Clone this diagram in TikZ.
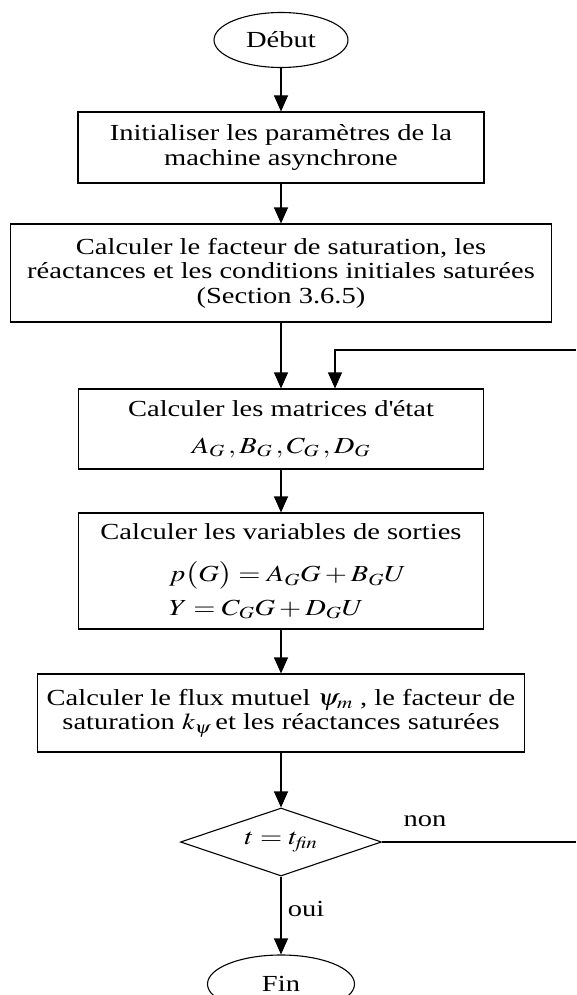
\documentclass[tikz,border=0pt]{standalone}
\usepackage{mathptmx}
\usepackage{graphicx}
\usepackage{fontspec}
\setmainfont{Liberation Serif}[FakeStretch=1.24]
\usetikzlibrary{shapes.geometric,arrows.meta}
\newcommand\mhs[1]{\scalebox{1.24}[1]{$#1$}}
\begin{document}
\begin{tikzpicture}[x=1pt,y=-1pt,
  every node/.style={font=\fontsize{23}{24.5}\selectfont},
  procbox/.style={draw,line width=1.1pt,inner sep=0pt,align=center},
  termnode/.style={draw,ellipse,line width=1.1pt,inner sep=0pt},
  decnode/.style={draw,diamond,line width=1.1pt,inner sep=0pt,minimum width=201pt,minimum height=68pt,aspect=2.96},
  lbl/.style={inner sep=0pt},
  arr/.style={line width=1.1pt,-{Triangle[length=16pt,width=14pt]}},
  ln/.style={line width=1.1pt}]
\useasboundingbox (0,0) rectangle (576,995);
\node[termnode,minimum width=134pt,minimum height=55pt] (deb) at (281,40) {Début};
\node[procbox,minimum width=406pt,minimum height=71pt] (b1) at (281,147.5)
  {Initialiser les paramètres de la\\machine asynchrone};
\node[procbox,minimum width=541pt,minimum height=98pt] (b2) at (281,273)
  {Calculer le facteur de saturation, les\\réactances et les conditions initiales saturées\\(Section 3.6.5)};
\node[procbox,minimum width=405pt,minimum height=80pt] (b3) at (281,429)
  {Calculer les matrices d\textquotesingle état\\[12pt]\mhs{A_G\,, B_G\,, C_G\,, D_G}};
\node[procbox,minimum width=405pt,minimum height=116pt] (b4) at (281,571)
  {Calculer les variables de sorties\\[18pt]
   \makebox[224pt][l]{\mhs{p\bigl(G\bigr) = A_G G + B_G U}}\\[9pt]
   \makebox[224pt][l]{\mhs{Y = C_G G + D_G U}}};
\node[procbox,minimum width=487pt,minimum height=78pt] (b5) at (281,713)
  {Calculer le flux mutuel \mhs{\psi_m} , le facteur de\\saturation \mhs{k_\psi}\,et les réactances saturées};
\node[decnode] (dec) at (281,842) {\mhs{t = t_{\mathit{fin}}}};
\node[termnode,minimum width=147pt,minimum height=58pt] (fin) at (281,984) {Fin};
\node[lbl] (non) at (425,821) {non};
\node[lbl] (oui) at (306,909) {oui};
\coordinate (fbR) at (576,842);
\coordinate (fbT) at (576,350);
\coordinate (fbC) at (335,350);
\draw[arr] (deb) -- (b1);
\draw[arr] (b1) -- (b2);
\draw[arr] (b2) -- (b3);
\draw[arr] (b3) -- (b4);
\draw[arr] (b4) -- (b5);
\draw[arr] (b5) -- (dec);
\draw[arr] (dec) -- (fin);
\draw[ln] (dec.east) -- (fbR);
\draw[arr] (fbT) -- (fbC) -- (fbC |- b3.north);
\end{tikzpicture}
\end{document}
